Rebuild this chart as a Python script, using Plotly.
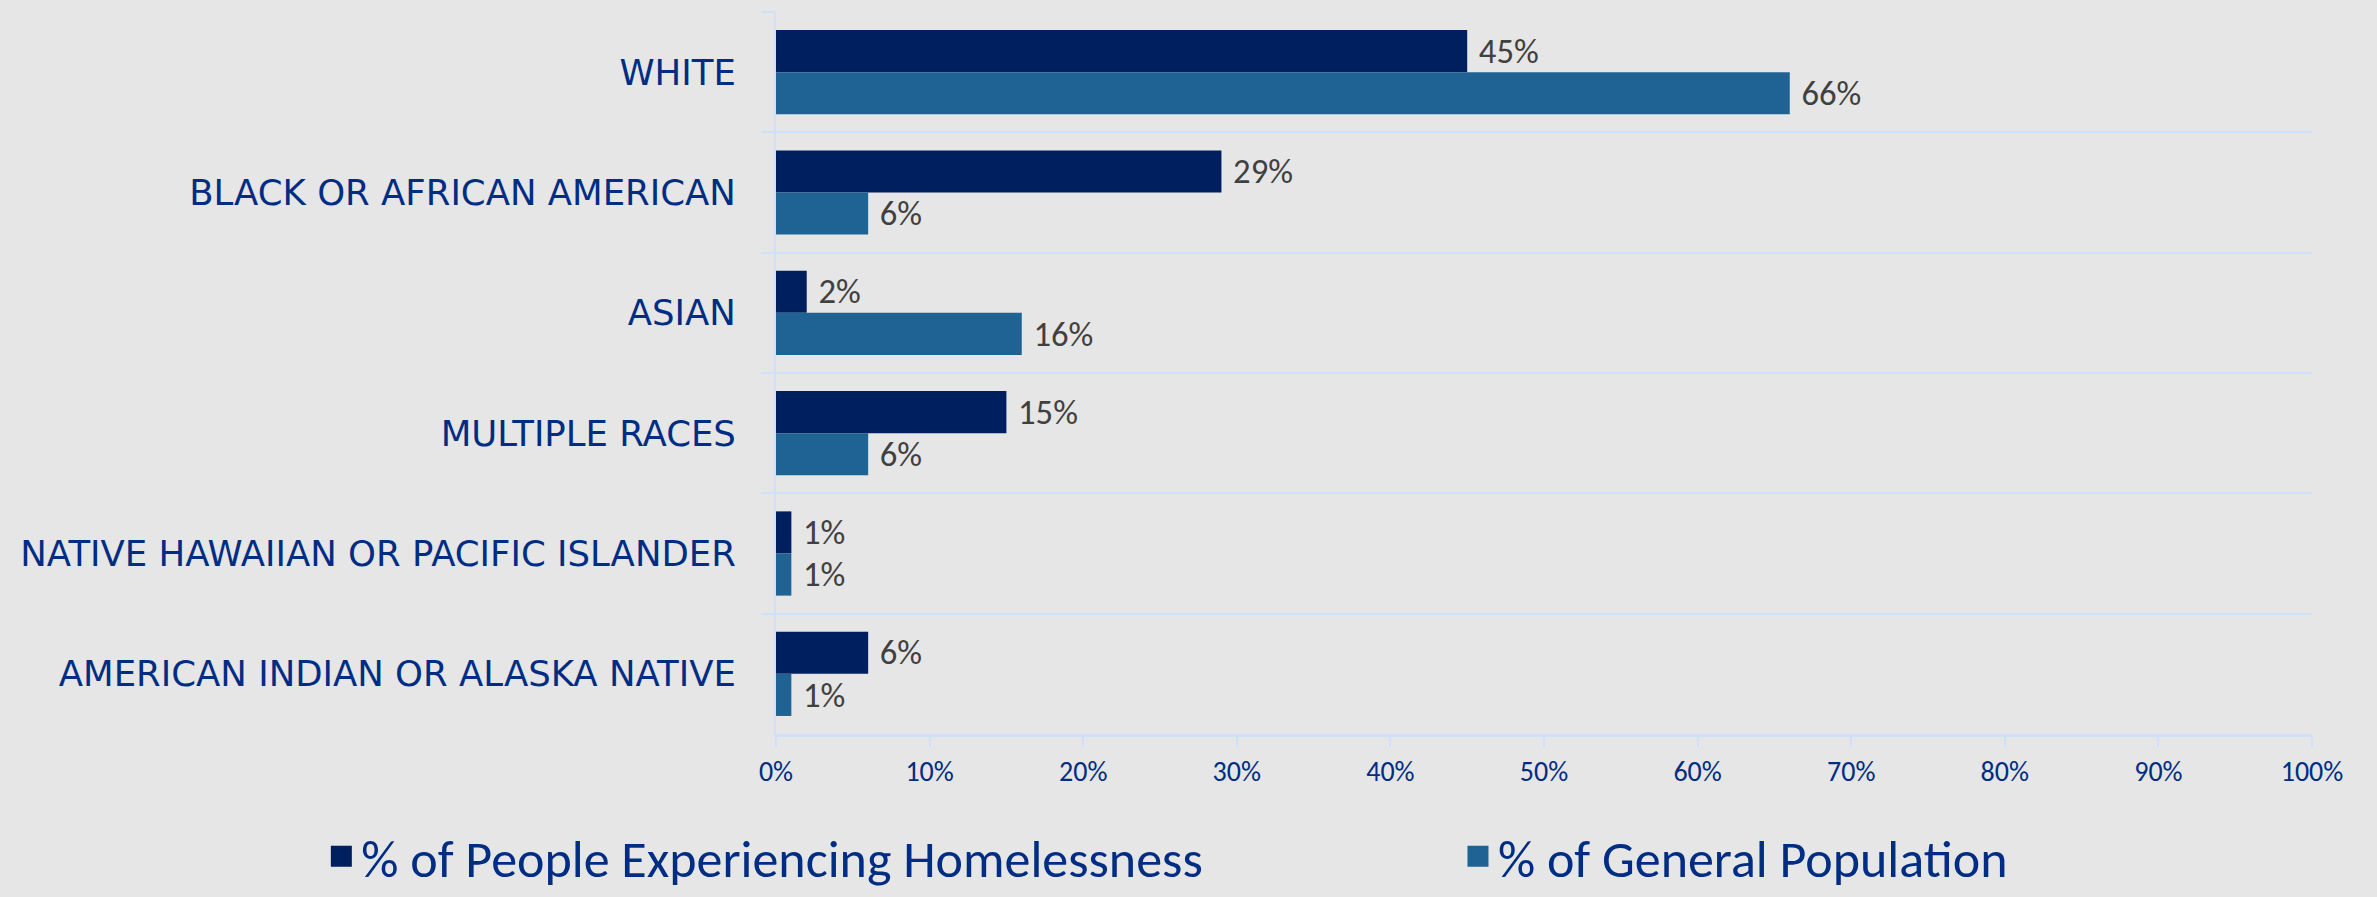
import plotly.graph_objects as go

categories = ["WHITE", "BLACK OR AFRICAN AMERICAN", "ASIAN", "MULTIPLE RACES",
              "NATIVE HAWAIIAN OR PACIFIC ISLANDER", "AMERICAN INDIAN OR ALASKA NATIVE"]
homeless = [0.45, 0.29, 0.02, 0.15, 0.01, 0.06]
general = [0.66, 0.06, 0.16, 0.06, 0.01, 0.01]
series_names = ["% of People Experiencing Homelessness", "% of General Population"]
x_ticks = [0, 0.1, 0.2, 0.3, 0.4, 0.5, 0.6, 0.7, 0.8, 0.9, 1.0]

BG = "#E6E6E6"
GRID = "#CFE0FA"
DARK = "#001F5E"
LIGHT = "#1E6394"
TXT_BLUE = "#002D84"
COND = "Carlito, Calibri, Lato, sans-serif"

fig = go.Figure()
series = [(series_names[0], homeless, DARK, "legend"), (series_names[1], general, LIGHT, "legend2")]
for name, vals, col, lg in series:
    fig.add_trace(go.Bar(
        y=categories, x=vals, name=name, orientation="h",
        marker=dict(color=col, line=dict(width=0)),
        texttemplate="\u2005%{x:.0%}", textposition="outside",
        textfont=dict(family=COND, size=37, color="#404040"),
        cliponaxis=False, showlegend=False,
    ))
for name, vals, col, lg in series:
    fig.add_trace(go.Scatter(
        x=[None], y=[None], mode="markers", name=name, legend=lg,
        marker=dict(symbol="square", size=16, color=col, line=dict(color=col, width=5)),
        showlegend=True,
    ))

leg_common = dict(orientation="h", yref="container", yanchor="bottom", y=0.0,
                  xanchor="left",
                  font=dict(family=COND, size=52, color=TXT_BLUE),
                  bgcolor="rgba(0,0,0,0)", itemsizing="trace")

fig.update_layout(
    width=2377, height=897,
    paper_bgcolor=BG, plot_bgcolor=BG,
    barmode="group", bargap=0.3, bargroupgap=0,
    margin=dict(l=776, r=65, t=12, b=163),
    legend=dict(x=-0.296, **leg_common),
    legend2=dict(x=0.444, **leg_common),
    xaxis=dict(range=[0, 1], tickvals=x_ticks, tickformat=".0%",
               showgrid=False, zeroline=False,
               showline=True, linecolor=GRID, linewidth=3,
               ticks="outside", ticklen=10, tickcolor=GRID, tickwidth=2,
               tickfont=dict(family=COND, size=28, color=TXT_BLUE)),
    yaxis=dict(autorange="reversed", tickson="boundaries",
               showgrid=True, gridcolor=GRID, gridwidth=2,
               showline=True, linecolor=GRID, linewidth=2,
               ticks="outside", ticklen=13, tickcolor=GRID, tickwidth=2,
               tickfont=dict(family="'DejaVu Sans'", size=35.5, color=TXT_BLUE),
               ticklabelstandoff=31),
)

fig.write_html("out.html", config={"displayModeBar": False},
               post_script="document.body.style.margin='0';")
